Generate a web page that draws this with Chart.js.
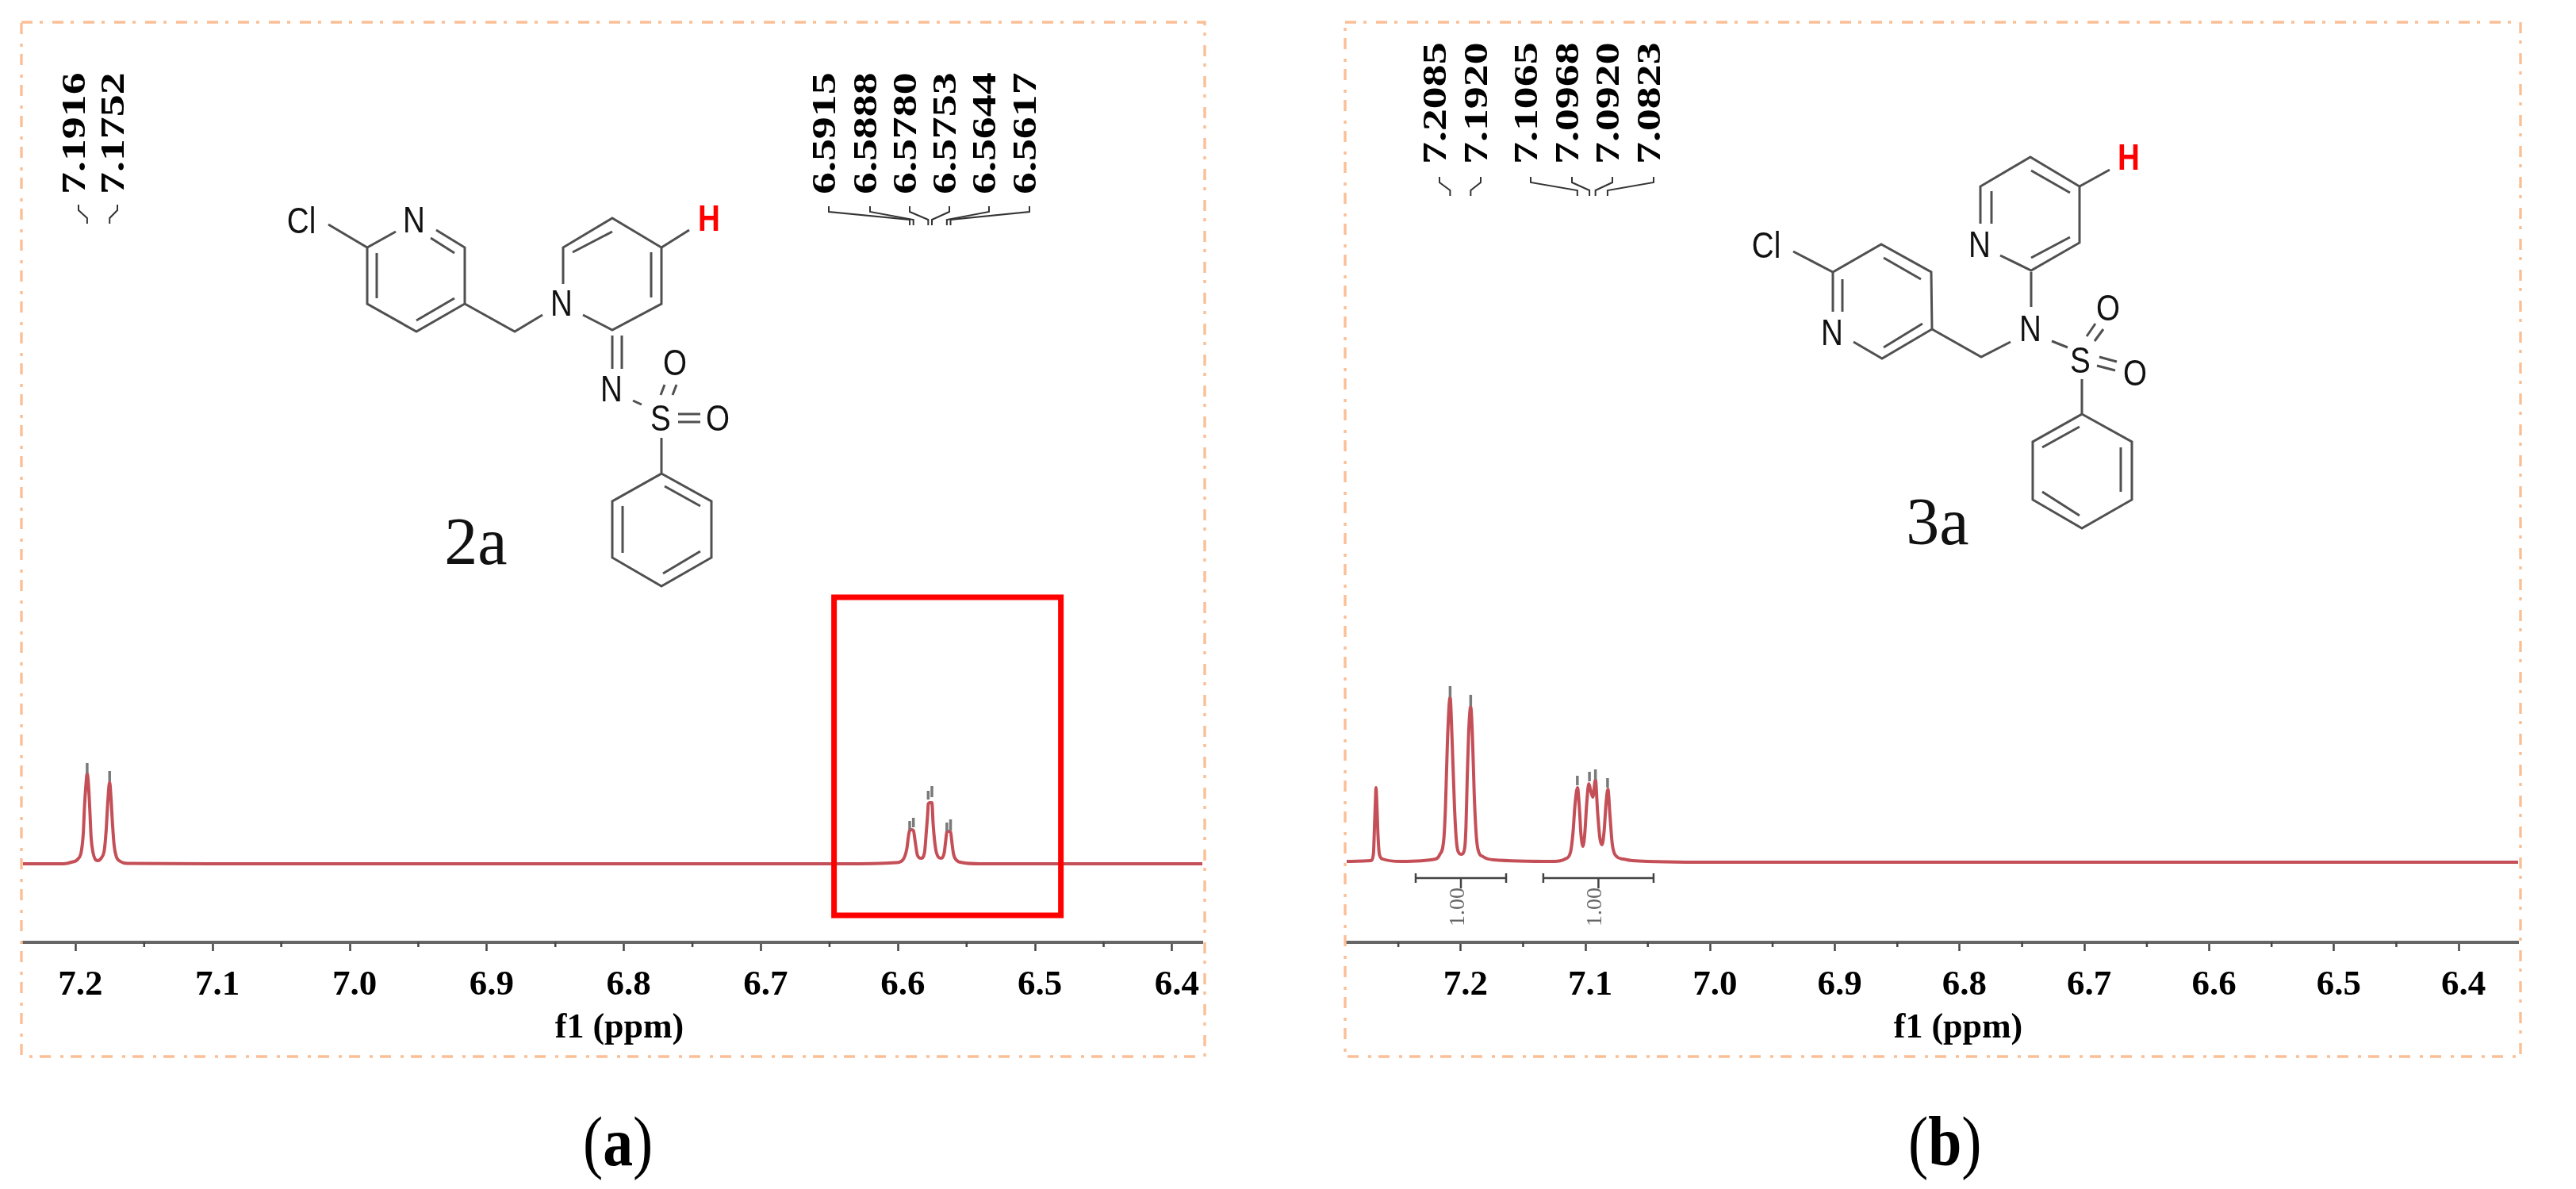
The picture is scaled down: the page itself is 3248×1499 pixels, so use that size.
<!DOCTYPE html>
<html>
<head>
<meta charset="utf-8">
<title>NMR spectra of 2a and 3a</title>
<script src="https://cdn.jsdelivr.net/npm/chart.js@4"></script>
<style>
    html, body { margin: 0; padding: 0; background: #fff; }
    #page { position: relative; width: 3248px; height: 1499px; overflow: hidden; background: #fff; }
    canvas { position: absolute; left: 0; top: 0; }
    svg { position: absolute; left: 0; top: 0; }
    .caption { position: absolute; font: 88px "Liberation Serif", serif; color: #000; line-height: 1; transform: scaleX(0.86); transform-origin: left center; }
    svg path { fill: none; stroke: #505050; stroke-width: 3; }
    svg text { font-family: "Liberation Sans", sans-serif; font-size: 46px; fill: #111; text-anchor: middle; dominant-baseline: central; }
    svg text.hl { fill: #ff0000; font-weight: bold; }
    svg text.name { font-family: "Liberation Serif", serif; font-size: 84px; }
</style>
</head>
<body>
<div id="page">
    <canvas id="spectrumA" width="3248" height="1499"></canvas>
    <canvas id="spectrumB" width="3248" height="1499"></canvas>

    <svg width="3248" height="1499">
        <!-- compound 2a -->
        <path d="M414 283L463 312L499 292M550 290L586 312L586 383L525 418L463 383L463 312"/>
        <path d="M543 300L573 319M475 319L475 376M525 404L573 376"/>
        <path d="M586 383L649 418L684 397"/>
        <path d="M710 358L710 312L772 275L834 312L834 383L772 416L735 397"/>
        <path d="M722 318L772 292M821 318L821 375M834 312L869 290"/>
        <path d="M772 423L772 465M784 423L784 465M798 505L809 510"/>
        <path d="M838 485L833 498M853 485L848 498M855 522L883 522M855 532L883 532"/>
        <path d="M834 552L834 597L772 632L772 703L834 739L897 703L897 632L834 597"/>
        <path d="M838 613L883 638M785 638L785 697M836 723L883 695"/>
        <text x="380" y="278">Cl</text>
        <text x="522" y="277">N</text>
        <text x="708" y="382">N</text>
        <text x="771" y="490">N</text>
        <text x="833" y="527">S</text>
        <text x="851" y="457">O</text>
        <text x="905" y="527">O</text>
        <text class="hl" x="894" y="275">H</text>
        <text class="name" x="600" y="682">2a</text>

        <!-- compound 3a -->
        <path d="M2261 317L2311 343L2372 308L2435 343L2436 415L2373 452L2337 431M2311 343L2311 393"/>
        <path d="M2323 352L2323 393M2375 325L2422 352M2375 438L2424 408"/>
        <path d="M2436 415L2498 450L2535 431M2561 343L2561 387"/>
        <path d="M2497 282L2497 235L2560 198L2622 235L2622 306L2561 341L2522 322"/>
        <path d="M2511 241L2511 282M2561 215L2610 243M2561 325L2610 299M2622 235L2660 214"/>
        <path d="M2587 430L2607 438M2631 424L2642 408M2641 430L2652 415M2647 450L2669 456M2644 461L2667 467"/>
        <path d="M2625 478L2625 522L2563 557L2563 630L2625 666L2688 630L2688 557L2625 522"/>
        <path d="M2575 564L2622 538M2674 564L2674 620M2575 620L2622 650"/>
        <text x="2227" y="309">Cl</text>
        <text x="2310" y="419">N</text>
        <text x="2496" y="308">N</text>
        <text x="2560" y="414">N</text>
        <text x="2623" y="454">S</text>
        <text x="2658" y="388">O</text>
        <text x="2692" y="470">O</text>
        <text class="hl" x="2684" y="198">H</text>
        <text class="name" x="2443" y="657">3a</text>
    </svg>

    <div class="caption" style="left:735px; top:1396px;">(<b>a</b>)</div>
    <div class="caption" style="left:2406px; top:1396px;">(<b>b</b>)</div>
</div>

<script>
// axis ticks, ppm
const ticksA = [7.2, 7.1, 7.0, 6.9, 6.8, 6.7, 6.6, 6.5, 6.4];
const minorTicksA = [7.15, 7.05, 6.95, 6.85, 6.75, 6.65, 6.55, 6.45];
const ticksB = [7.2, 7.1, 7.0, 6.9, 6.8, 6.7, 6.6, 6.5, 6.4];
const minorTicksB = [7.25, 7.15, 7.05, 6.95, 6.85, 6.75, 6.65, 6.55, 6.45];

// spectrum of 2a
const ppmA = [7.2384, 7.2089, 7.2031, 7.1983, 7.1958, 7.1944, 7.1935, 7.1925, 7.1916, 7.1906, 7.1896, 7.1887, 7.1873,
    7.1858, 7.1839, 7.181, 7.179, 7.1777, 7.1765, 7.1752, 7.1742, 7.1732, 7.1719, 7.1703, 7.1674, 7.1626, 7.1, 6.95, 6.75,
    6.64, 6.601, 6.5962, 6.5936, 6.5923, 6.5915, 6.5902, 6.5888, 6.5875, 6.5859, 6.5832, 6.5807, 6.5794, 6.5782, 6.578,
    6.5767, 6.5753, 6.5744, 6.5734, 6.572, 6.5686, 6.5663, 6.5653, 6.5644, 6.5631, 6.5617, 6.5605, 6.5595, 6.5576, 6.553,
    6.54, 6.45, 6.378];
const intensityA = [0, 0, 2, 6, 16, 39, 73, 99, 114, 99, 66, 33, 14,
    6, 4, 8, 18, 43, 79, 103, 83, 53, 23, 9, 3, 0.5, 0, 0, 0,
    0, 1.5, 5.6, 19, 36, 42, 43, 42, 28, 11, 7, 14, 40, 68, 75,
    77, 77, 50, 30, 14, 7, 14, 28, 40, 41, 40, 24, 12, 5, 1.5,
    0, 0, 0];

// spectrum of 3a
const ppmB = [7.2914, 7.2722, 7.27, 7.269, 7.2683, 7.2679, 7.2673, 7.2664, 7.2652, 7.2626, 7.2477, 7.2202, 7.217, 7.2135,
    7.2122, 7.2106, 7.2085, 7.2069, 7.205, 7.2036, 7.2022, 7.1994, 7.1969, 7.1958, 7.1948, 7.1936, 7.192, 7.1905, 7.1892,
    7.1878, 7.1863, 7.1821, 7.1738, 7.1249, 7.1164, 7.1121, 7.11, 7.1085, 7.1064, 7.1047, 7.1037, 7.102, 7.1005, 7.099,
    7.0973, 7.0958, 7.0941, 7.092, 7.0903, 7.0884, 7.0867, 7.085, 7.0835, 7.082, 7.0804, 7.0786, 7.0761, 7.0697, 7.0624,
    7.0, 6.8, 6.6, 6.3524];
const intensityB = [0, 1, 9, 49, 79, 93, 76, 36, 9, 3, 0, 3, 8, 29,
    69, 153, 207, 153, 69, 29, 13, 9, 16, 43, 103, 163, 195, 153, 86,
    39, 16, 6, 2, 0, 3, 11, 36, 69, 93, 63, 36, 19, 36, 73,
    98, 89, 81, 103, 63, 29, 21, 39, 73, 91, 59, 23, 8, 3, 1,
    -1, -1, -1, -1];

// picked peaks and the height of their little marks
const peaksA = [7.1916, 7.1752, 6.5915, 6.5888, 6.5780, 6.5753, 6.5644, 6.5617];
const pickBottomA = [114, 104, 43, 46, 81, 84, 41, 42];
const pickTopA = [127, 117, 54, 58, 92, 98, 52, 56];
const peaksB = [7.2085, 7.1920, 7.1065, 7.0968, 7.0920, 7.0823];
const pickBottomB = [207, 196, 96, 101, 103, 93];
const pickTopB = [221, 210, 108, 113, 116, 105];

// integrals of 3a: start, end, value
const integralStartB = [7.2361, 7.1338];
const integralEndB = [7.1636, 7.0454];
const integralValueB = ['1.00', '1.00'];

const highlightPpmA = [6.6467, 6.4812];

const drawFrame = (ctx, f) => {
    ctx.save();
    ctx.strokeStyle = '#fbbf95';
    ctx.lineWidth = 3.4;
    ctx.setLineDash([14, 9, 4, 12]);
    ctx.strokeRect(f.left, f.top, f.right - f.left, f.bottom - f.top);
    ctx.restore();
};

// vertical peak label plus the bent leader going down to the peak
const drawPeakLabel = (ctx, text, labelX, footX, baseY, leaderY) => {
    ctx.save();
    ctx.translate(labelX + 14, baseY);
    ctx.rotate(-Math.PI / 2);
    ctx.scale(1.33, 1);
    ctx.fillStyle = '#000';
    ctx.font = 'bold 42px "Liberation Serif", serif';
    ctx.textAlign = 'left';
    ctx.textBaseline = 'alphabetic';
    ctx.fillText(text, 0, 0);
    ctx.restore();

    ctx.save();
    ctx.strokeStyle = '#333';
    ctx.lineWidth = 2;
    ctx.beginPath();
    ctx.moveTo(labelX + 6, leaderY);
    ctx.lineTo(labelX + 6, leaderY + 7);
    ctx.lineTo(footX, leaderY + 17);
    ctx.lineTo(footX, leaderY + 24);
    ctx.stroke();
    ctx.restore();
};

const annotate = (cfg) => ({
    id: 'annotate',
    afterDraw(chart) {
        const { ctx, scales } = chart;
        const x = scales.x;
        const y = scales.y;
        drawFrame(ctx, cfg.frame);

        // minor ticks, shorter than the library's ones
        ctx.save();
        ctx.strokeStyle = '#444';
        ctx.lineWidth = 2.5;
        cfg.minorTicks.forEach(v => {
            const px = x.getPixelForValue(v);
            ctx.beginPath();
            ctx.moveTo(px, x.top);
            ctx.lineTo(px, x.top + 6);
            ctx.stroke();
        });
        ctx.restore();

        // peak pick marks
        ctx.save();
        ctx.strokeStyle = '#7a7a7a';
        ctx.lineWidth = 3.5;
        cfg.peaks.forEach((p, i) => {
            const px = x.getPixelForValue(p);
            ctx.beginPath();
            ctx.moveTo(px, y.getPixelForValue(cfg.pickBottom[i]));
            ctx.lineTo(px, y.getPixelForValue(cfg.pickTop[i]));
            ctx.stroke();
        });
        ctx.restore();

        cfg.peaks.forEach((p, i) => {
            drawPeakLabel(ctx, p.toFixed(4), cfg.labelX[i], x.getPixelForValue(p), cfg.labelBase[i], cfg.leaderY[i]);
        });

        ctx.save();
        ctx.fillStyle = '#000';
        ctx.font = 'bold 44px "Liberation Serif", serif';
        ctx.textAlign = 'center';
        ctx.textBaseline = 'alphabetic';
        ctx.fillText('f1 (ppm)', cfg.titleX, 1308);
        ctx.restore();

        if (cfg.extra) cfg.extra(chart);
    }
});

const drawHighlight = (chart) => {
    const { ctx, scales } = chart;
    const left = scales.x.getPixelForValue(highlightPpmA[0]);
    const right = scales.x.getPixelForValue(highlightPpmA[1]);
    ctx.save();
    ctx.strokeStyle = '#ff0000';
    ctx.lineWidth = 7;
    ctx.strokeRect(left, 753, right - left, 401);
    ctx.restore();
};

const drawIntegrals = (chart) => {
    const { ctx, scales } = chart;
    const x = scales.x;
    integralStartB.forEach((start, i) => {
        const a = x.getPixelForValue(start);
        const b = x.getPixelForValue(integralEndB[i]);
        const mid = (a + b) / 2;
        ctx.save();
        ctx.strokeStyle = '#444';
        ctx.lineWidth = 2.5;
        ctx.beginPath();
        ctx.moveTo(a, 1107); ctx.lineTo(b, 1107);
        ctx.moveTo(a, 1101); ctx.lineTo(a, 1113);
        ctx.moveTo(b, 1101); ctx.lineTo(b, 1113);
        ctx.moveTo(mid, 1107); ctx.lineTo(mid, 1120);
        ctx.stroke();
        ctx.translate(mid + 4, 1168);
        ctx.rotate(-Math.PI / 2);
        ctx.fillStyle = '#666';
        ctx.font = '28px "Liberation Serif", serif';
        ctx.textAlign = 'left';
        ctx.textBaseline = 'alphabetic';
        ctx.fillText(integralValueB[i], 0, 0);
        ctx.restore();
    });
};

const buildSpectrum = (id, ppm, intensity, ticks, area, yMin, yMax, plugin) => {
    return new Chart(document.getElementById(id).getContext('2d'), {
        type: 'line',
        data: {
            datasets: [{
                data: ppm.map((p, i) => ({ x: p, y: intensity[i] })),
                borderColor: 'rgba(180, 30, 40, 0.78)',
                borderWidth: 4,
                pointRadius: 0,
                cubicInterpolationMode: 'monotone',
                fill: false
            }]
        },
        options: {
            responsive: false,
            animation: false,
            devicePixelRatio: 1,
            events: [],
            layout: {
                autoPadding: false,
                padding: { left: area.left, right: 3248 - area.right, top: area.top, bottom: 1499 - 1288 }
            },
            plugins: { legend: { display: false }, tooltip: { enabled: false }, title: { display: false } },
            scales: {
                x: {
                    type: 'linear',
                    reverse: true,
                    min: area.ppmMin,
                    max: area.ppmMax,
                    afterBuildTicks: (axis) => { axis.ticks = ticks.map(v => ({ value: v })); },
                    afterFit: (axis) => { axis.height = 100; },
                    border: { display: true, color: '#666', width: 4 },
                    grid: { drawOnChartArea: false, drawTicks: true, tickLength: 11, tickColor: '#444', tickWidth: 2.5 },
                    ticks: {
                        autoSkip: false,
                        maxRotation: 0,
                        padding: 16,
                        labelOffset: 6,
                        color: '#000',
                        font: { family: '"Liberation Serif", serif', size: 45, weight: 'bold' },
                        callback: (v) => Number(v).toFixed(1)
                    }
                },
                y: { display: false, min: yMin, max: yMax }
            }
        },
        plugins: [plugin]
    });
};

buildSpectrum('spectrumA', ppmA, intensityA, ticksA,
    { left: 29, right: 1516, top: 900, ppmMin: 6.378, ppmMax: 7.2384 }, -99, 189,
    annotate({
        frame: { left: 27, top: 28, right: 1519, bottom: 1332 },
        minorTicks: minorTicksA,
        peaks: peaksA,
        pickBottom: pickBottomA,
        pickTop: pickTopA,
        labelX: [93, 142, 1039, 1091, 1141, 1191, 1241, 1292],
        labelBase: [245, 245, 245, 245, 245, 245, 245, 245],
        leaderY: [258, 258, 260, 260, 260, 260, 260, 260],
        titleX: 781,
        extra: drawHighlight
    }));

buildSpectrum('spectrumB', ppmB, intensityB, ticksB,
    { left: 1698, right: 3175, top: 860, ppmMin: 6.3524, ppmMax: 7.2914 }, -102, 226,
    annotate({
        frame: { left: 1696, top: 28, right: 3178, bottom: 1332 },
        minorTicks: minorTicksB,
        peaks: peaksB,
        pickBottom: pickBottomB,
        pickTop: pickTopB,
        labelX: [1809, 1861, 1924, 1976, 2027, 2079],
        labelBase: [207, 207, 207, 207, 207, 207],
        leaderY: [223, 223, 223, 223, 223, 223],
        titleX: 2469,
        extra: drawIntegrals
    }));

// the atom labels in the reference are narrower than the font
document.querySelectorAll('svg text:not(.name)').forEach(t => {
    const tx = t.getAttribute('x');
    const ty = t.getAttribute('y');
    t.setAttribute('transform', `translate(${tx} ${ty}) scale(0.84 1) translate(${-tx} ${-ty})`);
});
</script>
</body>
</html>
